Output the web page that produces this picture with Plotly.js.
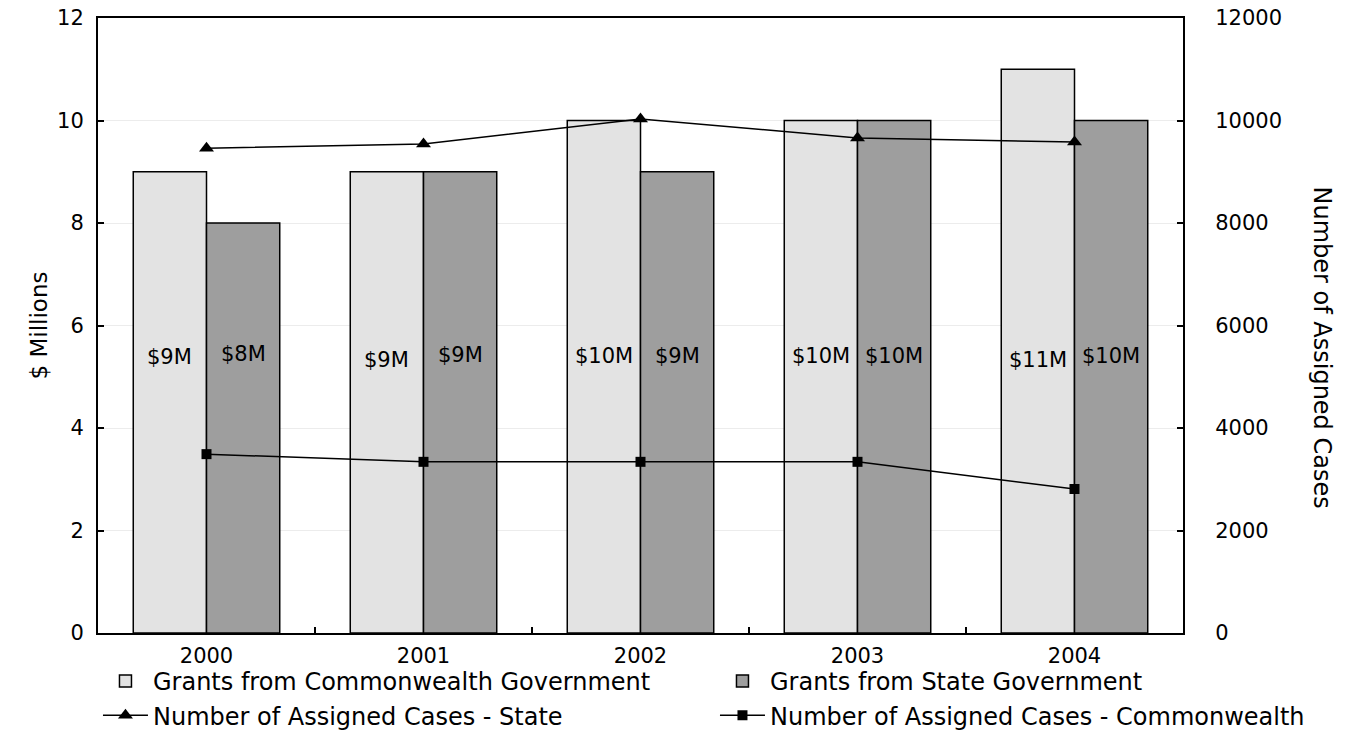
<!DOCTYPE html>
<html>
<head>
<meta charset="utf-8">
<script src="https://cdn.plot.ly/plotly-3.0.1.min.js"></script>
<style>html,body{margin:0;padding:0;background:#fff;}#chart{width:1355px;height:751px;}</style>
</head>
<body>
<div id="chart"></div>
<script>
const years = ['2000', '2001', '2002', '2003', '2004'];
const grantsCommonwealth = [9, 9, 10, 10, 11];
const grantsState = [8, 9, 9, 10, 10];
const casesState = [9460, 9540, 10030, 9660, 9580];
const casesCommonwealth = [3490, 3340, 3340, 3340, 2810];
const labelsCommonwealth = ['$9M', '$9M', '$10M', '$10M', '$11M'];
const labelsState = ['$8M', '$9M', '$9M', '$10M', '$10M'];
const labelHeightCommonwealth = [5.39, 5.33, 5.41, 5.41, 5.33];
const labelHeightState = [5.44, 5.43, 5.41, 5.41, 5.41];

const FONT = 'DejaVu Sans, Verdana, sans-serif';
const barOffset = 0.16875;

const traces = [
  {type: 'bar', name: 'Grants from Commonwealth Government', x: years, y: grantsCommonwealth,
   marker: {color: '#e3e3e3', line: {color: '#000', width: 1.5}}, hoverinfo: 'y'},
  {type: 'bar', name: 'Grants from State Government', x: years, y: grantsState,
   marker: {color: '#9e9e9e', line: {color: '#000', width: 1.5}}, hoverinfo: 'y'},
  {type: 'scatter', mode: 'lines+markers', name: 'Number of Assigned Cases - State', x: years, y: casesState,
   yaxis: 'y2', line: {color: '#000', width: 1.5}, marker: {symbol: 'triangle-up', size: 13, color: '#000'}},
  {type: 'scatter', mode: 'lines+markers', name: 'Number of Assigned Cases - Commonwealth', x: years, y: casesCommonwealth,
   yaxis: 'y2', line: {color: '#000', width: 1.5}, marker: {symbol: 'square', size: 10, color: '#000'}}
];

const annotations = [];
years.forEach((yr, i) => {
  annotations.push({x: i - barOffset, y: labelHeightCommonwealth[i], xref: 'x', yref: 'y', text: labelsCommonwealth[i],
    showarrow: false, font: {family: FONT, size: 21, color: '#000'}});
  annotations.push({x: i + barOffset, y: labelHeightState[i], xref: 'x', yref: 'y', text: labelsState[i],
    showarrow: false, font: {family: FONT, size: 21, color: '#000'}});
});
annotations.push({xref: 'paper', yref: 'paper', x: 1, xshift: 155, y: 0.5, yshift: -22, text: 'Number of Assigned Cases',
  textangle: 90, showarrow: false, font: {family: FONT, size: 24, color: '#000'}});
annotations.push({xref: 'paper', yref: 'paper', x: 0, xshift: -75, y: 0.5, text: '$ Millions',
  textangle: -90, showarrow: false, font: {family: FONT, size: 23, color: '#000'}});

const layout = {
  width: 1355, height: 751,
  margin: {l: 98, r: 172, t: 18, b: 118},
  paper_bgcolor: '#fff', plot_bgcolor: '#fff',
  font: {family: FONT, size: 21, color: '#000'},
  barmode: 'group', bargap: 0.325, bargroupgap: 0,
  showlegend: true,
  legend: {orientation: 'h', xref: 'paper', yref: 'paper', x: 1.1373, xanchor: 'right', y: -0.042, yanchor: 'top',
    entrywidth: 557, entrywidthmode: 'pixels', traceorder: 'normal', tracegroupgap: 0, borderwidth: 0,
    font: {family: FONT, size: 24, color: '#000'}, itemwidth: 45, bgcolor: 'rgba(0,0,0,0)'},
  xaxis: {type: 'category', showline: true, linecolor: '#000', linewidth: 2, mirror: true,
    ticks: 'inside', tickson: 'boundaries', ticklen: 6, tickcolor: '#000', tickwidth: 2,
    tickfont: {family: FONT, size: 21}, ticklabelstandoff: 3, showgrid: false, automargin: false},
  yaxis: {range: [0, 12], dtick: 2, showline: true, linecolor: '#000', linewidth: 2,
    ticks: 'inside', ticklen: 6, tickcolor: '#000', tickwidth: 2, tickfont: {family: FONT, size: 21},
    ticklabelstandoff: 8, automargin: false,
    showgrid: true, gridcolor: '#ececec', gridwidth: 1, zeroline: false},
  yaxis2: {range: [0, 12000], dtick: 2000, tickformat: 'd', overlaying: 'y', side: 'right', showline: true, linecolor: '#000', linewidth: 2,
    ticks: 'inside', ticklen: 6, tickcolor: '#000', tickwidth: 2, tickfont: {family: FONT, size: 21},
    ticklabelstandoff: 26, automargin: false, showgrid: false, zeroline: false},
  annotations: annotations
};

Plotly.newPlot('chart', traces, layout, {displayModeBar: false, staticPlot: true});
</script>
</body>
</html>
